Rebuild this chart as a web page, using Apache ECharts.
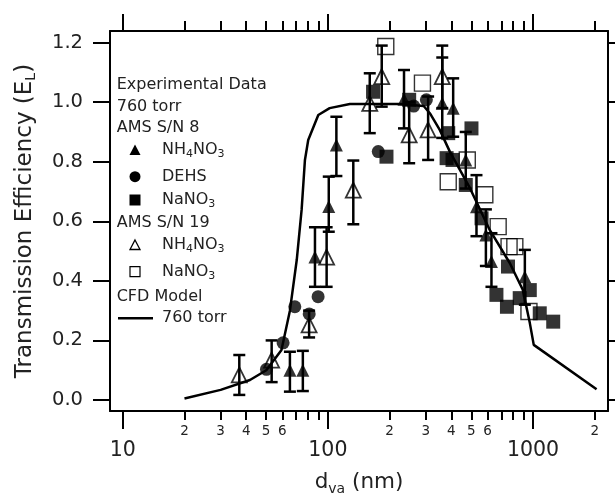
<!DOCTYPE html>
<html><head><meta charset="utf-8">
<script src="https://cdn.jsdelivr.net/npm/echarts@6/dist/echarts.min.js"></script>
<style>html,body{margin:0;padding:0;background:#fff}#c{width:615px;height:497px}</style>
</head><body><div id="c"></div>
<script>
// ---- tick values ----
const majorTicks = [10, 100, 1000];
const minorTicks = [20,30,40,50,60,70,80,90,200,300,400,500,600,700,800,900,2000];
const minorLabels = [20,30,40,50,60,200,300,400,500,600,2000];
const yTicks = [0, 0.2, 0.4, 0.6, 0.8, 1.0, 1.2];

// ---- data: [d_va (nm), E_L, errLow, errHigh] ----
const sn8NH4NO3 = [
  [65.3, 0.10, 0.028, 0.162],
  [75.5, 0.10, 0.03, 0.165],
  [86.5, 0.48, 0.38, 0.58],
  [101, 0.65, 0.565, 0.75],
  [110, 0.856, 0.752, 0.951],
  [235, 1.01, 0.912, 1.108],
  [361, 0.996, 0.88, 1.19],
  [408, 0.98, 0.884, 1.08],
  [470, 0.806, 0.71, 0.90],
  [530, 0.649, 0.55, 0.755],
  [589, 0.554, 0.45, 0.64],
  [627, 0.465, 0.38, 0.56],
  [912, 0.414, 0.32, 0.504]
];
const sn8DEHS = [
  [50.2, 0.103], [60.5, 0.192], [69, 0.313], [81.1, 0.289], [89.6, 0.347],
  [176, 0.834], [262, 0.987], [302, 1.008]
];
const sn8NaNO3 = [
  [166, 1.035], [193, 0.817], [249, 1.008], [379, 0.812], [386, 0.896], [405, 0.806],
  [470, 0.722], [501, 0.912], [561, 0.61], [663, 0.353], [746, 0.313], [755, 0.448],
  [861, 0.342], [964, 0.369], [1078, 0.291], [1254, 0.263]
];
const sn19NH4NO3 = [
  [37, 0.084, 0.017, 0.151],
  [53.2, 0.134, 0.06, 0.20],
  [81, 0.252, 0.21, 0.30],
  [98.6, 0.48, 0.38, 0.58],
  [133, 0.705, 0.59, 0.804],
  [160, 0.996, 0.896, 1.097],
  [183, 1.086, 0.985, 1.19],
  [249, 0.89, 0.795, 1.0],
  [308, 0.907, 0.806, 1.019],
  [361, 1.086, 0.98, 1.15]
];
const sn19NaNO3 = [
  [191.5, 1.187], [289, 1.064], [386, 0.733], [478, 0.806], [582, 0.689],
  [676, 0.582], [764, 0.515], [815, 0.515], [955, 0.297]
];
const cfdModel = [
  [20, 0.005], [30, 0.034], [41.7, 0.067], [50.1, 0.10], [59.4, 0.168], [65.3, 0.30],
  [70.5, 0.47], [74.5, 0.64], [77.3, 0.806], [80.2, 0.873], [89.8, 0.957], [102, 0.98],
  [128, 0.994], [224, 0.994], [293, 0.987], [314, 0.963], [351, 0.907], [393, 0.834],
  [492, 0.712], [615, 0.571], [770, 0.46], [891, 0.37], [964, 0.259], [1008, 0.185],
  [2040, 0.036]
];

// ---- styling ----
const FONT = 'DejaVu Sans, Liberation Sans, Arial, sans-serif';
const TXT = '#222';
const X_MIN = 8.67, X_MAX = 2319, Y_MIN = -0.037, Y_MAX = 1.239;

function xAxisBase(o) {
  return Object.assign({
    type: 'log', logBase: 10, min: X_MIN, max: X_MAX,
    splitLine: {show: false}, minorTick: {show: false},
    axisLine: {show: false, onZero: false}, axisTick: {show: false}, axisLabel: {show: false}
  }, o);
}
function yAxisBase(o) {
  return Object.assign({
    type: 'value', min: Y_MIN, max: Y_MAX,
    splitLine: {show: false},
    axisLine: {show: false, onZero: false}, axisTick: {show: false}, axisLabel: {show: false}
  }, o);
}
const frameLine = {show: true, onZero: false, lineStyle: {color: '#000', width: 2}};
const tickStyle = {color: '#000', width: 2};

function renderErr(params, api) {
  const x = api.value(0), lo = api.value(2), hi = api.value(3);
  const p1 = api.coord([x, hi]), p2 = api.coord([x, lo]);
  const cw = 6;
  const st = {stroke: '#000', lineWidth: 2.5};
  return {type: 'group', children: [
    {type: 'line', shape: {x1: p1[0], y1: p1[1], x2: p2[0], y2: p2[1]}, style: st},
    {type: 'line', shape: {x1: p1[0] - cw, y1: p1[1], x2: p1[0] + cw, y2: p1[1]}, style: st},
    {type: 'line', shape: {x1: p2[0] - cw, y1: p2[1], x2: p2[0] + cw, y2: p2[1]}, style: st}
  ]};
}

const legFont = {fontSize: 16, fontFamily: FONT, fill: TXT};
const subRich = {s: {fontSize: 11, fontFamily: FONT, fill: TXT, lineHeight: 8, verticalAlign: 'bottom'}};
function gText(text, x, y) {
  return {type: 'text', x: x, y: y, style: Object.assign({text: text, verticalAlign: 'middle', lineHeight: 20, rich: subRich}, legFont)};
}
const graphics = [
  gText('Experimental Data', 116.7, 85),
  gText('760 torr', 116.7, 106.7),
  gText('AMS S/N 8', 116.7, 128.3),
  {type: 'polygon', shape: {points: [[135, 144.5], [140.5, 155], [129.5, 155]]}, style: {fill: '#000'}},
  gText('NH{s|4}NO{s|3}', 162, 150),
  {type: 'circle', shape: {cx: 135, cy: 176.7, r: 5.5}, style: {fill: '#000'}},
  gText('DEHS', 162, 176.7),
  {type: 'rect', shape: {x: 129.5, y: 194.5, width: 11, height: 11}, style: {fill: '#000'}},
  gText('NaNO{s|3}', 162, 200),
  gText('AMS S/N 19', 116.7, 223.3),
  {type: 'polygon', shape: {points: [[135, 240], [140, 249.5], [130, 249.5]]}, style: {fill: 'none', stroke: '#000', lineWidth: 1.3}},
  gText('NH{s|4}NO{s|3}', 162, 245),
  {type: 'rect', shape: {x: 130, y: 266.7, width: 10, height: 10}, style: {fill: 'none', stroke: '#000', lineWidth: 1.2}},
  gText('NaNO{s|3}', 162, 271.7),
  gText('CFD Model', 116.7, 296.7),
  {type: 'line', shape: {x1: 118, y1: 318.3, x2: 153, y2: 318.3}, style: {stroke: '#000', lineWidth: 2.5}},
  gText('760 torr', 162, 318.3)
];

const chart = echarts.init(document.getElementById('c'), null, {renderer: 'canvas'});
chart.setOption({
  animation: false,
  backgroundColor: '#fff',
  grid: {left: 110, right: 7, top: 31, bottom: 86, containLabel: false, outerBoundsMode: 'none'},
  xAxis: [
    xAxisBase({
      position: 'bottom',
      axisLine: frameLine,
      axisTick: {show: true, customValues: majorTicks, length: 18, lineStyle: tickStyle},
      axisLabel: {show: true, customValues: majorTicks, margin: 29, fontSize: 20.5, fontFamily: FONT, color: TXT,
        formatter: v => String(Math.round(v))},
      name: 'd{sub|va} (nm)', nameLocation: 'middle', nameGap: 57,
      nameTextStyle: {fontSize: 21.5, fontFamily: FONT, color: TXT, lineHeight: 28,
        rich: {sub: {fontSize: 14, fontFamily: FONT, color: TXT, lineHeight: 8, verticalAlign: 'bottom'}}}
    }),
    xAxisBase({
      position: 'bottom',
      axisTick: {show: true, customValues: minorTicks, length: 9, lineStyle: tickStyle},
      axisLabel: {show: true, customValues: minorLabels, margin: 13.5, fontSize: 13.5, fontFamily: FONT, color: TXT,
        formatter: v => String(Math.round(v / Math.pow(10, Math.floor(Math.log10(v) + 1e-9))))}
    }),
    xAxisBase({
      position: 'top',
      axisLine: frameLine,
      axisTick: {show: true, customValues: majorTicks, length: 17, lineStyle: tickStyle}
    }),
    xAxisBase({
      position: 'top',
      axisTick: {show: true, customValues: minorTicks, length: 10, lineStyle: tickStyle}
    })
  ],
  yAxis: [
    yAxisBase({
      position: 'left',
      axisLine: frameLine,
      axisTick: {show: true, customValues: yTicks, length: 17, lineStyle: tickStyle},
      axisLabel: {show: true, customValues: yTicks, margin: 27, fontSize: 19.5, fontFamily: FONT, color: TXT,
        formatter: v => v.toFixed(1)},
      name: 'Transmission Efficiency (E{sub|L})', nameLocation: 'middle', nameGap: 72, nameRotate: 90,
      nameTextStyle: {fontSize: 23, fontFamily: FONT, color: TXT, lineHeight: 26,
        rich: {sub: {fontSize: 14, fontFamily: FONT, color: TXT, lineHeight: 10, verticalAlign: 'bottom'}}}
    }),
    yAxisBase({
      position: 'right',
      axisLine: frameLine,
      axisTick: {show: true, customValues: yTicks, length: 9, lineStyle: tickStyle}
    })
  ],
  graphic: graphics,
  series: [
    {type: 'line', name: 'CFD Model 760 torr', data: cfdModel, xAxisIndex: 0, yAxisIndex: 0,
      showSymbol: false, symbol: 'none', lineStyle: {color: '#000', width: 2.5}, z: 2},
    {type: 'scatter', name: 'S/N 8 NaNO3', data: sn8NaNO3, symbol: 'rect', symbolSize: 14,
      itemStyle: {color: '#000'}, z: 3},
    {type: 'scatter', name: 'S/N 8 DEHS', data: sn8DEHS, symbol: 'circle', symbolSize: 13,
      itemStyle: {color: '#000'}, z: 3},
    {type: 'scatter', name: 'S/N 8 NH4NO3', data: sn8NH4NO3, symbol: 'triangle', symbolSize: 13,
      encode: {x: 0, y: 1}, itemStyle: {color: '#000'}, z: 4},
    {type: 'scatter', name: 'S/N 19 NaNO3', data: sn19NaNO3, symbol: 'rect', symbolSize: 16,
      itemStyle: {color: 'rgba(255,255,255,0)', borderColor: '#000', borderWidth: 1.4}, z: 4},
    {type: 'scatter', name: 'S/N 19 NH4NO3', data: sn19NH4NO3, symbol: 'triangle', symbolSize: 15,
      encode: {x: 0, y: 1}, itemStyle: {color: 'rgba(255,255,255,0)', borderColor: '#000', borderWidth: 1.8}, z: 4},
    {type: 'custom', name: 'S/N 8 NH4NO3 err', data: sn8NH4NO3, renderItem: renderErr,
      encode: {x: 0, y: [1, 2, 3]}, z: 5},
    {type: 'custom', name: 'S/N 19 NH4NO3 err', data: sn19NH4NO3, renderItem: renderErr,
      encode: {x: 0, y: [1, 2, 3]}, z: 5}
  ]
});
</script>
</body></html>
